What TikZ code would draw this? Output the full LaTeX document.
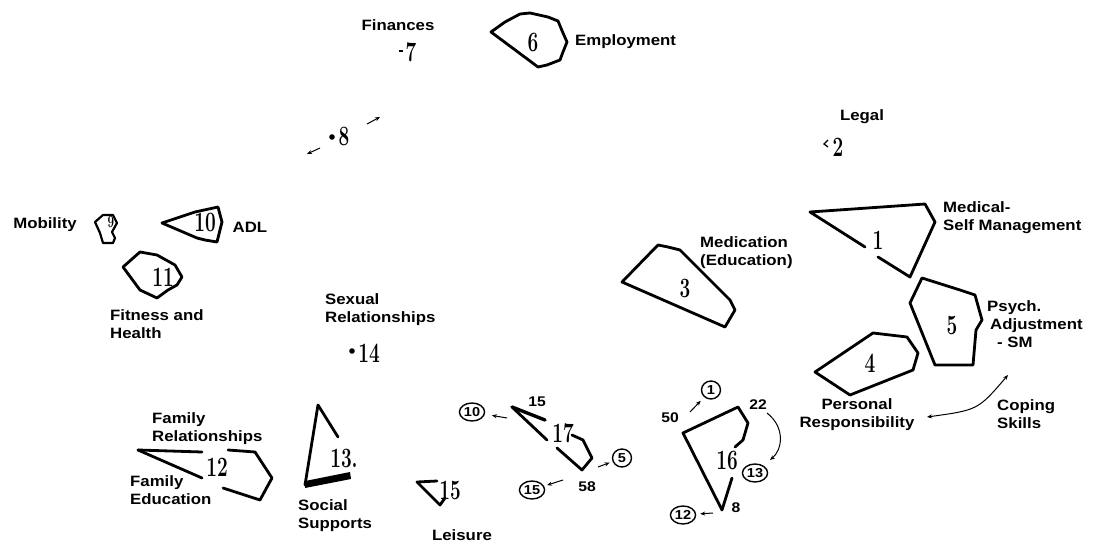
\documentclass[tikz,border=0pt]{standalone}
\usepackage{fontspec}
\newfontfamily\lblfont{Liberation Sans}[FakeStretch=1.12]
\usetikzlibrary{shapes.geometric,arrows.meta}
\newcommand{\pnum}[1]{\scalebox{0.68}[1]{#1}}
\begin{document}
\begin{tikzpicture}[x=1pt,y=-1pt,
  lbl/.style={font=\lblfont\bfseries\fontsize{15}{18}\selectfont, inner sep=0pt, align=left},
  lblc/.style={lbl, align=center},
  sml/.style={font=\lblfont\bfseries\fontsize{14}{14}\selectfont, inner sep=0pt},
  num/.style={font=\bfseries\fontsize{28}{28}\selectfont, inner sep=0pt},
  smallnum/.style={font=\bfseries\fontsize{17}{17}\selectfont, inner sep=0pt},
  poly/.style={line width=2.8pt, line join=round, line cap=round},
  circ/.style={draw, ellipse, line width=1.4pt, inner sep=0.8pt, minimum width=19pt, minimum height=18pt,
     font=\lblfont\bfseries\fontsize{13}{13}\selectfont},
  arr/.style={-{Stealth[length=5pt,width=4pt]}, line width=1pt},
  darr/.style={{Stealth[length=5pt,width=4pt]}-{Stealth[length=5pt,width=4pt]}, line width=1pt}
]
\useasboundingbox (0,0) rectangle (1093,548);

% ---------- top ----------
\node[lblc] (fin) at (398,25) {Finances};
\draw[line width=1.6pt] (399,51) -- (403,51);
\node[num] (n7) at (411,52) {\pnum{7}};

\draw[poly] (491,32) -- (505,22) -- (520,14) -- (530,13) -- (548,17) -- (558,21) -- (563,33)
  -- (567,42) -- (563,52) -- (560,60) -- (547,65) -- (538,67) -- cycle;
\node[num] (n6) at (533,42) {\pnum{6}};
\node[lbl, anchor=west] (emp) at (575,42) {Employment};

\fill (332,137) circle (2.8pt);
\node[num] (n8) at (344,136) {\pnum{8}};
\coordinate (e8a) at (367,124); \coordinate (e8b) at (380,117);
\coordinate (e8c) at (320,148); \coordinate (e8d) at (307,154);
\draw[arr] (e8a) -- (e8b);
\draw[arr] (e8c) -- (e8d);

\node[lblc] (legal) at (862,117) {Legal};
\draw[line width=1.3pt] (828,140) -- (824,144) -- (828,147);
\node[num] (n2) at (838,147) {\pnum{2}};

% ---------- polygon 1 ----------
\draw[poly] (865,247) -- (810,212) -- (925,204) -- (935,222) -- (910,277) -- (878,257);
\node[num] (n1) at (878,240) {\pnum{1}};
\node[lbl, anchor=west] (med) at (943,218) {Medical-\\Self Management};

% ---------- polygon 3 ----------
\draw[poly] (622,282) -- (658,245) -- (668,247) -- (680,250) -- (730,300) -- (735,310) -- (725,327) -- cycle;
\node[num] (n3) at (685,288) {\pnum{3}};
\node[lbl, anchor=west] (medi) at (700,253) {Medication\\(Education)};

% ---------- polygon 5 ----------
\draw[poly] (922,278) -- (960,290) -- (975,295) -- (982,320) -- (976,330) -- (973,365) -- (935,365) -- (910,303) -- cycle;
\node[num] (n5) at (952,325) {\pnum{5}};
\node[lbl, anchor=west] (psy) at (987,324) {Psych.\\\hspace*{3pt}Adjustment\\\hspace*{10pt}- SM};

% ---------- polygon 4 ----------
\draw[poly] (815,372) -- (873,333) -- (907,337) -- (918,353) -- (913,370) -- (850,395) -- cycle;
\node[num] (n4) at (870,363) {\pnum{4}};
\node[lblc] (pers) at (857,415) {Personal\\Responsibility};

\node[lbl, anchor=west] (cop) at (997,414) {Coping\\Skills};
\coordinate (cpa) at (1008,375); \coordinate (cpb) at (927,417);
\draw[darr] (cpa) .. controls (978,410) .. (cpb);

% ---------- left cluster ----------
\node[lblc] (mob) at (45,225) {Mobility};
\draw[poly, line width=2.2pt] (95,222) -- (103,215) -- (113,215) -- (117,223) -- (112,232) -- (115,238) -- (113,243) -- (103,243) -- (100,233) -- cycle;
\node[smallnum] (n9) at (111,222) {\pnum{9}};

\draw[poly] (162,223) -- (195,212) -- (218,207) -- (222,222) -- (217,242) -- (205,240) -- (197,238) -- cycle;
\node[num] (n10) at (205,222) {\pnum{10}};
\node[lblc] (adl) at (250,227) {ADL};

\draw[poly] (123,267) -- (140,252) -- (157,255) -- (175,265) -- (182,277) -- (177,285) -- (168,290) -- (157,298) -- (140,290) -- cycle;
\node[num] (n11) at (163,277) {\pnum{11}};
\node[lbl, anchor=west] (fit) at (110,324) {Fitness and\\Health};

% ---------- sexual ----------
\node[lbl, anchor=west] (sex) at (325,310) {Sexual\\Relationships};
\fill (352,351) circle (2.8pt);
\node[num] (n14) at (369,353) {\pnum{14}};

% ---------- polygon 12 ----------
\node[lbl, anchor=west] (famr) at (152,429) {Family\\Relationships};
\draw[poly] (138,450) -- (202,452);
\draw[poly] (228,450) -- (255,452) -- (272,478) -- (260,500) -- (223,488);
\draw[poly] (202,478) -- (138,450);
\node[num] (n12) at (217,467) {\pnum{12}};
\node[lbl, anchor=west] (fame) at (130,490) {Family\\Education};

% ---------- polygon 13 ----------
\draw[poly] (338,437) -- (318,405) -- (305,485);
\fill (305,481) -- (350,472) -- (351,479) -- (305,488) -- cycle;
\node[num] (n13) at (344,458) {\pnum{13.}};
\node[lbl, anchor=west] (soc) at (298,516) {Social\\Supports};

% ---------- polygon 15 ----------
\draw[poly] (437,481) -- (417,482) -- (440,505) -- (445,498);
\node[num] (n15) at (450,490) {\pnum{15}};
\node[lblc] (lei) at (462,535) {Leisure};

% ---------- polygon 17 ----------
\draw[poly, line width=3.4pt] (512,407) -- (545,420);
\draw[poly] (513,408) -- (547,440);
\draw[poly] (572,435) -- (583,440) -- (592,458) -- (582,470) -- (557,448);
\node[num] (n17) at (563,433) {\pnum{17}};
\node[sml] (l15) at (537,402) {15};
\node[sml] (l58) at (587,487) {58};
\node[circ] (c10) at (472,412) {10};
\node[circ] (c5) at (622,458) {5};
\node[circ] (c15) at (532,490) {15};
\coordinate (s10) at (507,418);
\coordinate (s5) at (598,467);
\coordinate (s15) at (563,480);
\draw[arr, shorten >=7pt] (s10) -- (c10);
\draw[arr, shorten >=3pt] (s5) -- (c5);
\draw[arr, shorten >=3pt] (s15) -- (c15);

% ---------- polygon 16 ----------
\draw[poly] (735,447) -- (743,440) -- (748,423) -- (738,407) -- (683,433) -- (722,510) -- (732,478);
\node[num] (n16) at (727,460) {\pnum{16}};
\node[sml] (l50) at (670,418) {50};
\node[sml] (l22) at (758,405) {22};
\node[sml] (l8) at (736,508) {8};
\node[circ] (c1) at (711,390) {1};
\node[circ] (c13) at (755,473) {13};
\node[circ] (c12) at (683,515) {12};
\coordinate (s1) at (690,412);
\coordinate (s22) at (767,413);
\coordinate (e13) at (770,460);
\coordinate (s12) at (713,513);
\draw[arr, shorten >=5pt] (s1) -- (c1);
\draw[arr] (s22) .. controls (786,428) and (782,450) .. (e13);
\draw[arr, shorten >=4pt] (s12) -- (c12);
\end{tikzpicture}
\end{document}
